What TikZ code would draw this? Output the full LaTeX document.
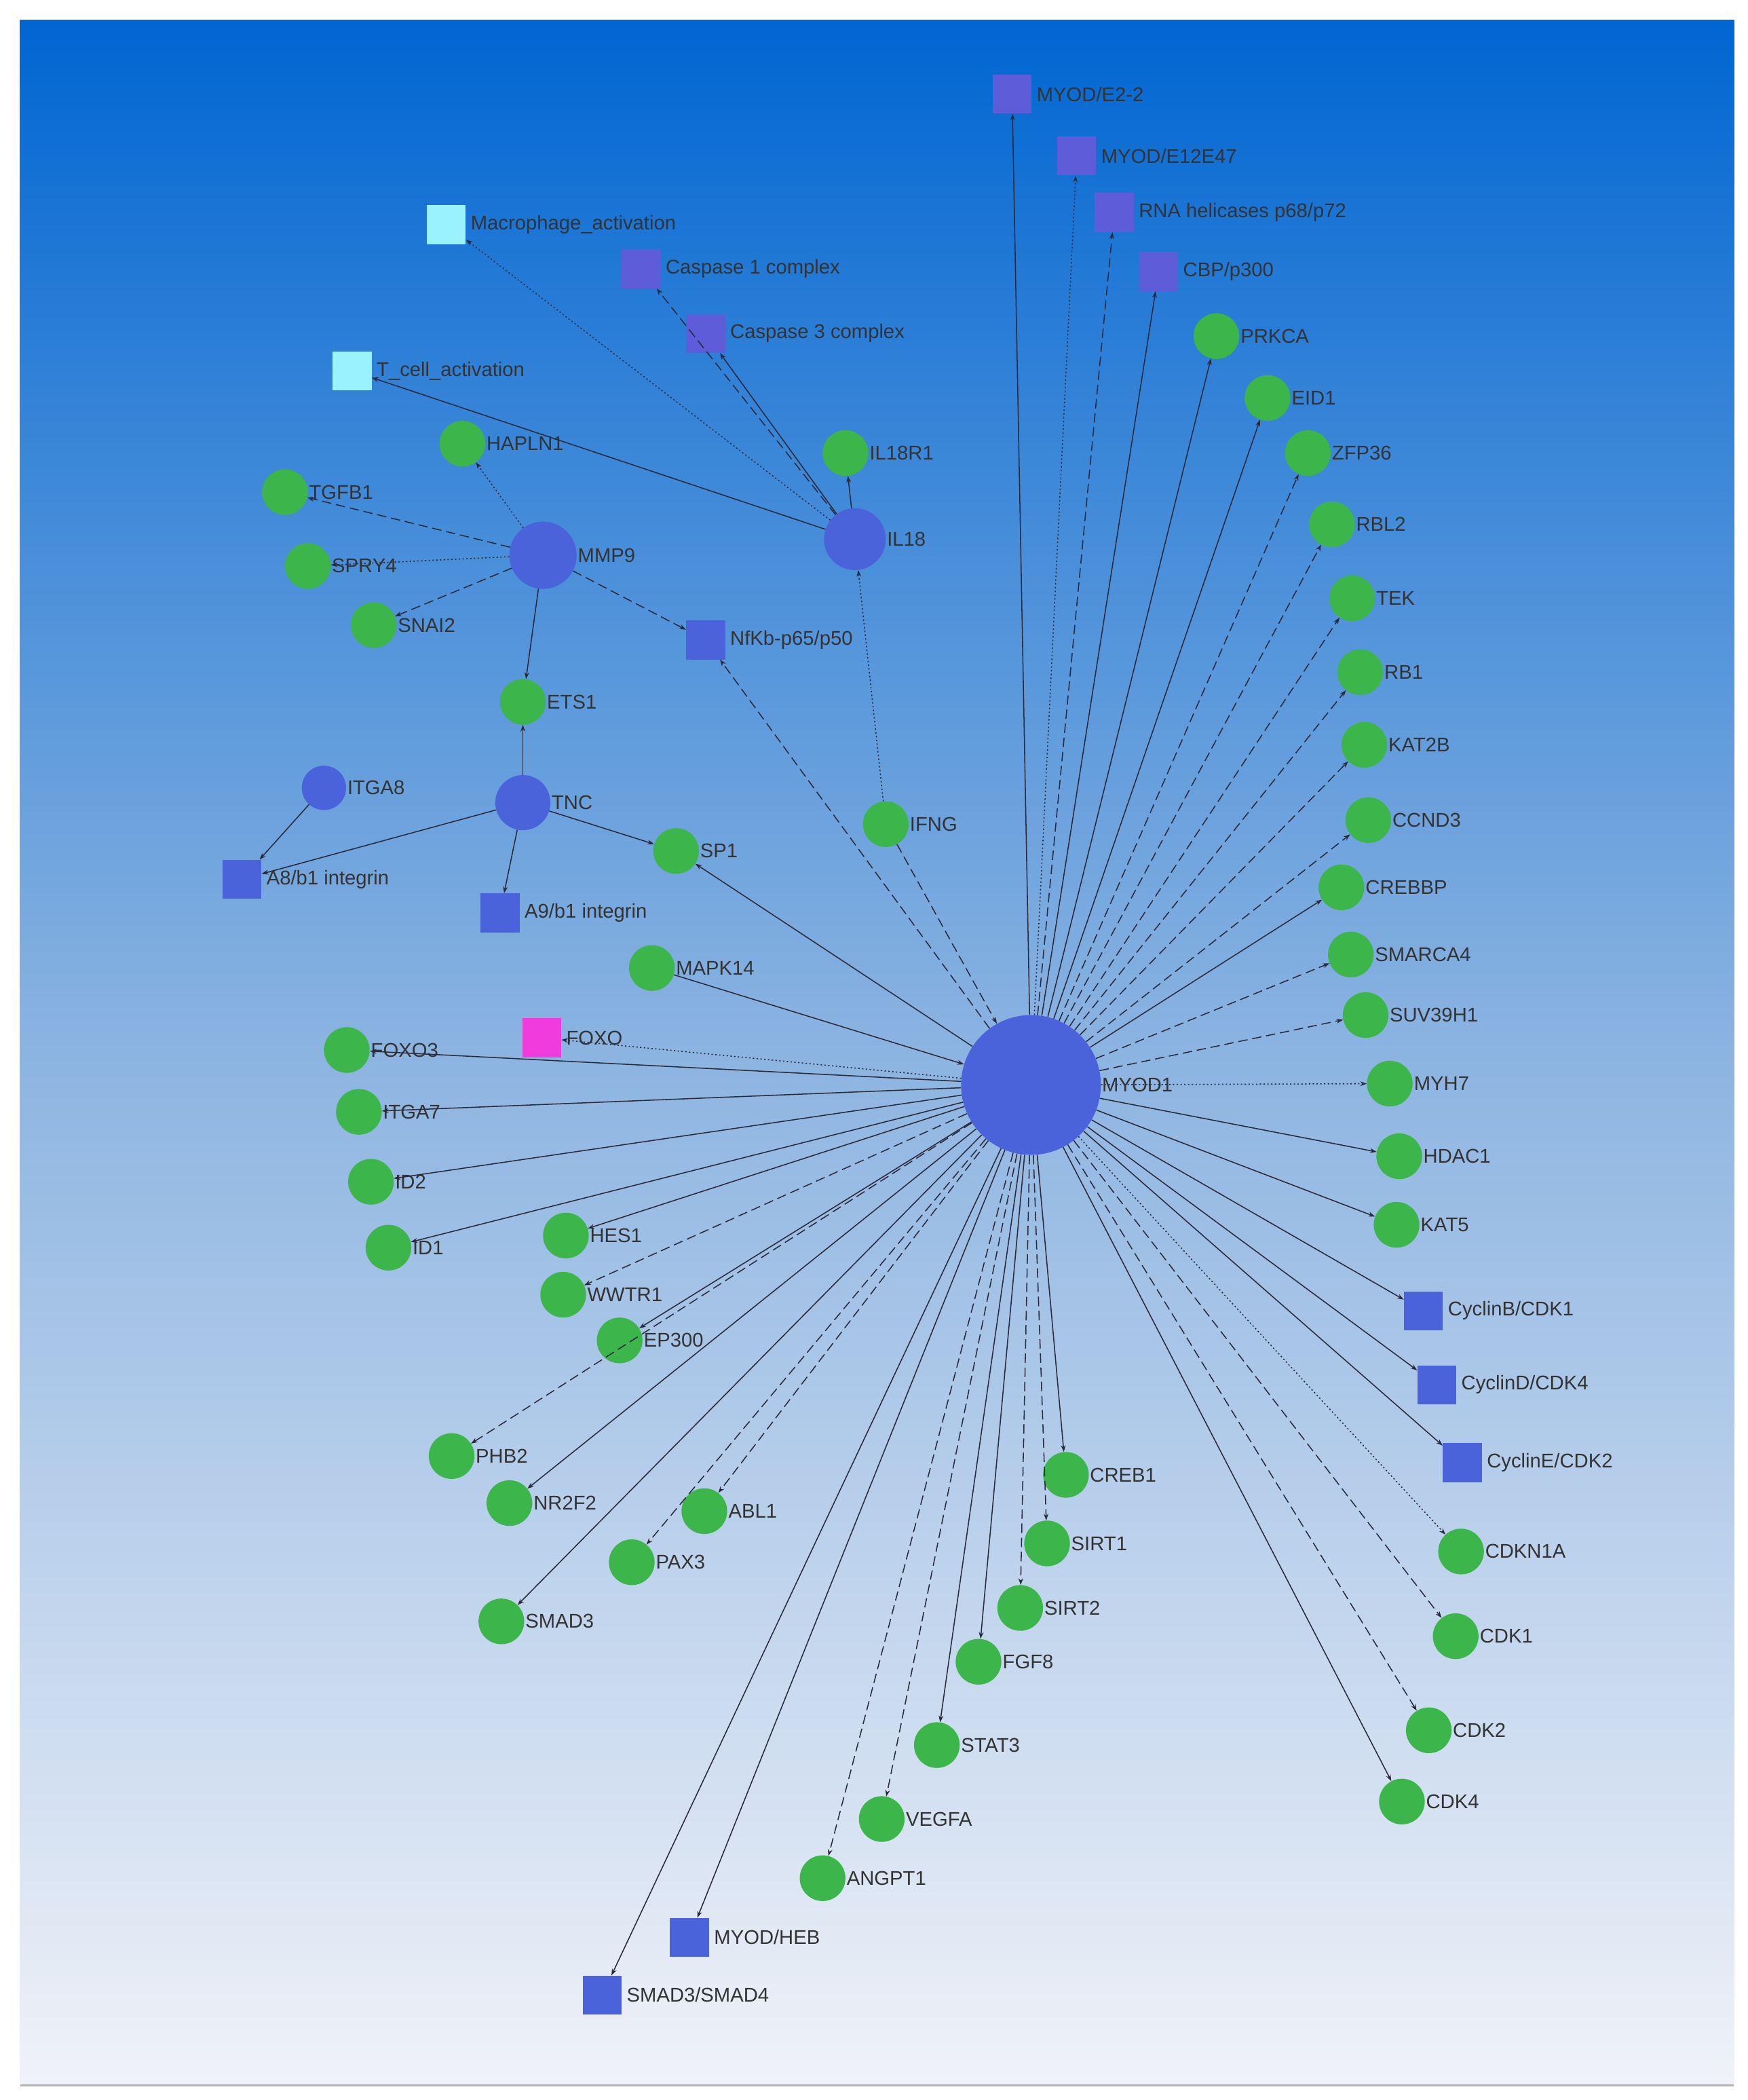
\documentclass[tikz,border=0pt]{standalone}
\usepackage{fontspec}
\setmainfont{Liberation Sans}
\usetikzlibrary{arrows.meta}
\definecolor{gr}{HTML}{3CB64A}
\definecolor{bl}{HTML}{4A62DA}
\definecolor{pu}{HTML}{5E5CD8}
\definecolor{cy}{HTML}{9AF2FF}
\definecolor{mg}{HTML}{F03CDC}
\definecolor{ed}{HTML}{2A2A3A}
\begin{document}
\begin{tikzpicture}[x=0.05cm,y=-0.05cm,
  lab/.style={font=\fontsize{21}{25}\selectfont,text=black!80,inner sep=1pt},
  g/.style={circle,fill=gr,minimum size=1.7cm,inner sep=0pt},
  bc/.style={circle,fill=bl,inner sep=0pt},
  sq/.style={rectangle,fill=#1,minimum size=1.45cm,inner sep=0pt},
  e/.style={draw=ed,line width=1.1pt,-{Stealth[length=7pt,width=5pt]}},
  sd/.style={e},
  da/.style={e,dash pattern=on 10pt off 5pt},
  dt/.style={e,dash pattern=on 1.5pt off 2.5pt}]
\useasboundingbox (0,0) rectangle (1300,1562);
\fill[white] (0,0) rectangle (1300,1562);
\shade[top color={rgb,255:red,0;green,102;blue,210},bottom color={rgb,255:red,240;green,242;blue,248},middle color={rgb,255:red,140;green,180;blue,225}] (15,15) rectangle (1290,1550);
\draw[gray!60,line width=2pt] (15,1551) -- (1290,1551);
\newcommand{\GN}[4]{\node[g,label={[lab]right:#4}] (#1) at (#2,#3) {};}
\newcommand{\SN}[5]{\node[sq=#5,label={[lab,xshift=4pt]right:#4}] (#1) at (#2,#3) {};}
\newcommand{\BN}[5]{\node[bc,minimum size=#5 cm,label={[lab]right:#4}] (#1) at (#2,#3) {};}
\BN{MYOD}{767}{807}{MYOD1}{5.2}
\SN{E22}{753}{70}{MYOD/E2-2}{pu}
\SN{E12}{801}{116}{MYOD/E12E47}{pu}
\SN{RNA}{829}{158}{RNA helicases p68/p72}{pu}
\SN{CBP}{862}{202}{CBP/p300}{pu}
\SN{MAC}{332}{167}{Macrophage\_activation}{cy}
\SN{CAS1}{477}{200}{Caspase 1 complex}{pu}
\SN{CAS3}{525}{248}{Caspase 3 complex}{pu}
\SN{TCA}{262}{276}{T\_cell\_activation}{cy}
\GN{HAPLN1}{344}{330}{HAPLN1}
\GN{IL18R1}{629}{337}{IL18R1}
\BN{IL18}{636}{401}{IL18}{2.3}
\GN{TGFB1}{212}{366}{TGFB1}
\GN{SPRY4}{229}{421}{SPRY4}
\BN{MMP9}{404}{413}{MMP9}{2.5}
\GN{SNAI2}{278}{465}{SNAI2}
\SN{NFKB}{525}{476}{NfKb-p65/p50}{bl}
\GN{ETS1}{389}{522}{ETS1}
\BN{ITGA8}{241}{586}{ITGA8}{1.65}
\BN{TNC}{389}{597}{TNC}{2.05}
\SN{A8}{180}{654}{A8/b1 integrin}{bl}
\SN{A9}{372}{679}{A9/b1 integrin}{bl}
\GN{SP1}{503}{633}{SP1}
\GN{IFNG}{659}{613}{IFNG}
\GN{MAPK14}{485}{720}{MAPK14}
\SN{FOXO}{403}{772}{FOXO}{mg}
\GN{FOXO3}{258}{781}{FOXO3}
\GN{ITGA7}{267}{827}{ITGA7}
\GN{ID2}{276}{879}{ID2}
\GN{ID1}{289}{928}{ID1}
\GN{HES1}{421}{919}{HES1}
\GN{WWTR1}{419}{963}{WWTR1}
\GN{EP300}{461}{997}{EP300}
\GN{PHB2}{336}{1083}{PHB2}
\GN{NR2F2}{379}{1118}{NR2F2}
\GN{ABL1}{524}{1124}{ABL1}
\GN{PAX3}{470}{1162}{PAX3}
\GN{SMAD3}{373}{1206}{SMAD3}
\SN{SS4}{448}{1484}{SMAD3/SMAD4}{bl}
\SN{HEB}{513}{1441}{MYOD/HEB}{bl}
\GN{ANGPT1}{612}{1397}{ANGPT1}
\GN{VEGFA}{656}{1353}{VEGFA}
\GN{STAT3}{697}{1298}{STAT3}
\GN{FGF8}{728}{1236}{FGF8}
\GN{SIRT2}{759}{1196}{SIRT2}
\GN{SIRT1}{779}{1148}{SIRT1}
\GN{CREB1}{793}{1097}{CREB1}
\GN{CDK4}{1043}{1340}{CDK4}
\GN{CDK2}{1063}{1287}{CDK2}
\GN{CDK1}{1083}{1217}{CDK1}
\GN{CDKN1A}{1087}{1154}{CDKN1A}
\SN{CE}{1088}{1088}{CyclinE/CDK2}{bl}
\SN{CD}{1069}{1030}{CyclinD/CDK4}{bl}
\SN{CB}{1059}{975}{CyclinB/CDK1}{bl}
\GN{KAT5}{1039}{911}{KAT5}
\GN{HDAC1}{1041}{860}{HDAC1}
\GN{MYH7}{1034}{806}{MYH7}
\GN{SUV}{1016}{755}{SUV39H1}
\GN{SMARCA4}{1005}{710}{SMARCA4}
\GN{CREBBP}{998}{660}{CREBBP}
\GN{CCND3}{1018}{610}{CCND3}
\GN{KAT2B}{1015}{554}{KAT2B}
\GN{RB1}{1012}{500}{RB1}
\GN{TEK}{1006}{445}{TEK}
\GN{RBL2}{991}{390}{RBL2}
\GN{ZFP36}{973}{337}{ZFP36}
\GN{EID1}{943}{296}{EID1}
\GN{PRKCA}{905}{250}{PRKCA}
\foreach \t/\s in {E22/sd,E12/dt,RNA/da,CBP/sd,PRKCA/sd,EID1/sd,ZFP36/da,RBL2/da,TEK/da,RB1/da,KAT2B/da,CCND3/da,CREBBP/sd,SMARCA4/da,SUV/da,MYH7/dt,HDAC1/sd,KAT5/sd,CB/sd,CD/sd,CE/sd,CDKN1A/dt,CDK1/da,CDK2/da,CDK4/sd,CREB1/sd,SIRT1/da,SIRT2/da,FGF8/sd,STAT3/sd,VEGFA/da,ANGPT1/da,HEB/sd,SS4/sd,SMAD3/sd,PAX3/da,ABL1/da,NR2F2/sd,PHB2/da,EP300/sd,WWTR1/da,HES1/sd,ID1/sd,ID2/sd,ITGA7/sd,FOXO3/sd,FOXO/dt,SP1/sd,NFKB/da}
  \draw[\s] (MYOD) -- (\t);
\draw[sd] (MAPK14) -- (MYOD);
\draw[da] (IFNG) -- (MYOD);
\draw[dt] (IFNG) -- (IL18);
\foreach \t/\s in {MAC/dt,TCA/sd,CAS1/da,CAS3/sd,IL18R1/sd}
  \draw[\s] (IL18) -- (\t);
\foreach \t/\s in {HAPLN1/dt,TGFB1/da,SPRY4/dt,SNAI2/da,NFKB/da,ETS1/sd}
  \draw[\s] (MMP9) -- (\t);
\foreach \t/\s in {ETS1/sd,A8/sd,A9/sd,SP1/sd}
  \draw[\s] (TNC) -- (\t);
\draw[sd] (ITGA8) -- (A8);
\end{tikzpicture}
\end{document}
